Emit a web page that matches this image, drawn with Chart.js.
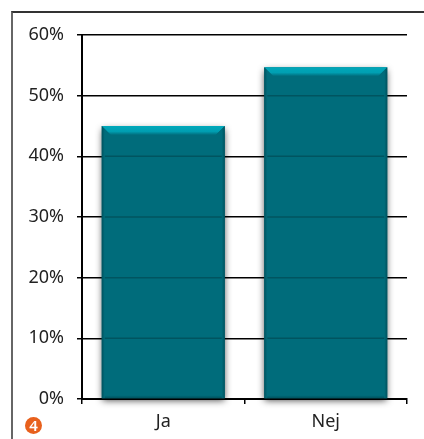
<!DOCTYPE html>
<html>
<head>
<meta charset="utf-8">
<title>Ja / Nej</title>
<script src="https://cdn.jsdelivr.net/npm/chart.js@4"></script>
<style>
    html, body { margin: 0; padding: 0; background: #fff; }
    #wrap { position: relative; width: 424px; height: 439px; overflow: hidden; }
    #frame { position: absolute; left: 11px; top: 10.5px; right: 0; bottom: 0; border-left: 2px solid #666; border-top: 2px solid #333; }
    #badge { position: absolute; left: 25px; top: 417px; width: 17px; height: 17px; border-radius: 50%; background: #e8601c; color: #fff; font: 600 15px/17px "Noto Sans", sans-serif; text-align: center; }
    canvas { position: absolute; left: 0; top: 0; }
</style>
</head>
<body>
<div id="wrap">
    <div id="frame"></div>
    <canvas id="chart" width="424" height="439"></canvas>
    <div id="badge">4</div>
</div>
<script>
const categories = ['Ja', 'Nej'];
const shares = [45, 54.7];
const yTicks = [0, 10, 20, 30, 40, 50, 60];

const TEAL = '#006c7b';
const TEAL_LIGHT = '#00a8ba';
const TEAL_DARK = '#00525e';

// soft drop shadow under the bars, set before the dataset is painted
const barShadow = {
    id: 'barShadow',
    beforeDatasetDraw(chart) {
        const ctx = chart.ctx;
        ctx.save();
        ctx.shadowColor = 'rgba(0,0,0,0.7)';
        ctx.shadowBlur = 7;
        ctx.shadowOffsetY = 3;
    },
    afterDatasetDraw(chart) {
        chart.ctx.restore();
    }
};

// bevelled edges on each bar: bright top, darker sides and bottom,
// plus the gridlines showing faintly through the bar
const barBevel = {
    id: 'barBevel',
    afterDatasetsDraw(chart) {
        const ctx = chart.ctx;
        const top = 9, side = 3, bottom = 3;
        const yScale = chart.scales.y;
        chart.getDatasetMeta(0).data.forEach((bar) => {
            const l = bar.x - bar.width / 2, r = bar.x + bar.width / 2;
            const t = bar.y, b = bar.base;
            ctx.save();

            ctx.strokeStyle = 'rgba(0,0,0,0.22)';
            ctx.lineWidth = 1.5;
            yTicks.forEach((v) => {
                const y = yScale.getPixelForValue(v);
                if (v > 0 && y > t) {
                    ctx.beginPath();
                    ctx.moveTo(l, y);
                    ctx.lineTo(r, y);
                    ctx.stroke();
                }
            });

            let g = ctx.createLinearGradient(0, t, 0, t + top);
            g.addColorStop(0, TEAL_LIGHT);
            g.addColorStop(0.6, '#009fb2');
            g.addColorStop(1, TEAL);
            ctx.fillStyle = g;
            ctx.beginPath();
            ctx.moveTo(l, t);
            ctx.lineTo(r, t);
            ctx.lineTo(r - top, t + top);
            ctx.lineTo(l + top, t + top);
            ctx.closePath();
            ctx.fill();

            g = ctx.createLinearGradient(l, 0, l + side, 0);
            g.addColorStop(0, TEAL_DARK);
            g.addColorStop(1, TEAL);
            ctx.fillStyle = g;
            ctx.beginPath();
            ctx.moveTo(l, t);
            ctx.lineTo(l + top, t + top);
            ctx.lineTo(l + side, t + top);
            ctx.lineTo(l + side, b);
            ctx.lineTo(l, b);
            ctx.closePath();
            ctx.fill();

            g = ctx.createLinearGradient(r, 0, r - side, 0);
            g.addColorStop(0, TEAL_DARK);
            g.addColorStop(1, TEAL);
            ctx.fillStyle = g;
            ctx.beginPath();
            ctx.moveTo(r, t);
            ctx.lineTo(r - top, t + top);
            ctx.lineTo(r - side, t + top);
            ctx.lineTo(r - side, b);
            ctx.lineTo(r, b);
            ctx.closePath();
            ctx.fill();

            g = ctx.createLinearGradient(0, b - bottom, 0, b);
            g.addColorStop(0, TEAL);
            g.addColorStop(1, TEAL_DARK);
            ctx.fillStyle = g;
            ctx.fillRect(l + side, b - bottom, r - l - 2 * side, bottom);

            ctx.restore();
        });
    }
};

new Chart(document.getElementById('chart').getContext('2d'), {
    type: 'bar',
    data: {
        labels: categories,
        datasets: [{
            data: shares,
            backgroundColor: TEAL,
            borderWidth: 0,
            barPercentage: 0.757,
            categoryPercentage: 1,
            clip: false
        }]
    },
    plugins: [barShadow, barBevel],
    options: {
        responsive: false,
        animation: false,
        events: [],
        layout: { padding: { left: 0, right: 17, top: 35, bottom: 0 } },
        plugins: { legend: { display: false }, tooltip: { enabled: false } },
        scales: {
            x: {
                z: 1,
                afterFit: (scale) => { scale.height = 40; },
                border: { color: '#000', width: 2 },
                grid: { offset: true, drawOnChartArea: false, color: '#000', lineWidth: 1.5, tickLength: 5 },
                ticks: { color: '#222', font: { family: 'Noto Sans', size: 18 }, padding: 7 }
            },
            y: {
                min: 0,
                max: 60,
                afterFit: (scale) => { scale.width = 82; },
                afterBuildTicks: (scale) => { scale.ticks = yTicks.map((v) => ({ value: v })); },
                border: { color: '#000', width: 2 },
                grid: { color: '#000', lineWidth: 1.5, tickLength: 5 },
                ticks: {
                    color: '#222',
                    font: { family: 'Noto Sans', size: 18 },
                    padding: 13,
                    callback: (v) => v + '%'
                }
            }
        }
    }
});
</script>
</body>
</html>
